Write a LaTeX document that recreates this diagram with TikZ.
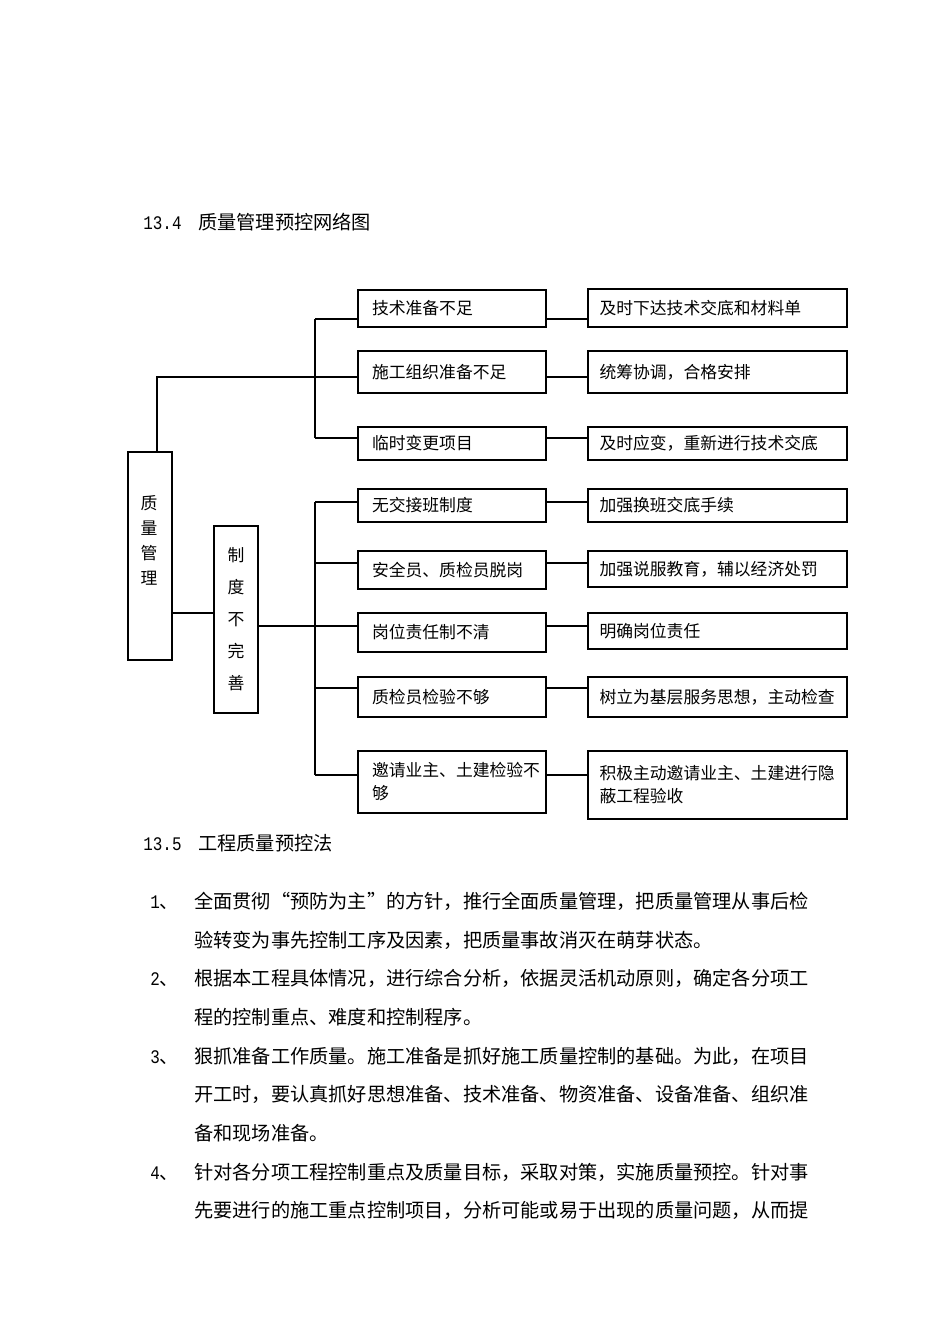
\documentclass[tikz,border=0pt]{standalone}
\usepackage{fontspec}
\setmainfont{Noto Sans CJK SC}
\newfontfamily\numfont[FakeStretch=0.83]{Liberation Mono}
\begin{document}
\begin{tikzpicture}[x=0.625pt,y=-0.625pt,
  bh/.style={minimum height=#1*0.625pt},
  boxline/.style={draw, line width=0.9pt},
  cbox/.style={boxline, inner xsep=8.75pt, inner ysep=0pt, text width=100pt, align=left,
    font=\fontsize{10.5pt}{14.4pt}\selectfont},
  rbox/.style={boxline, inner xsep=7.2pt, inner ysep=0pt, text width=147.5pt, align=left,
    font=\fontsize{10.5pt}{14.4pt}\selectfont},
  conn/.style={line width=0.8pt},
  bus/.style={line width=1.1pt},
  body/.style={anchor=west, inner sep=0pt, text height=10.56pt, text depth=1.44pt,
    font=\fontsize{12pt}{14pt}\selectfont}
]
\useasboundingbox (0,0) rectangle (950,1344);

% heading
\node[body] (h1) at (143,222) {{\numfont 13.4}\hspace{10.4pt}质量管理预控网络图};

% main boxes
\node[boxline, minimum width=27.5pt, minimum height=130pt, inner sep=0pt] (qm) at (150,556) {};
\node[inner sep=0pt, align=center, font=\fontsize{10.5pt}{15.6pt}\selectfont] (qmt) at (149,540) {质\\量\\管\\理};
\node[boxline, minimum width=27.5pt, minimum height=116.9pt, inner sep=0pt, align=center,
  font=\fontsize{10.5pt}{20pt}\selectfont] (zd) at (236,619.5) {制\\度\\不\\完\\善};

% cause boxes
\node[cbox, bh=37] (c1) at (452,308.5) {技术准备不足};
\node[cbox, bh=42] (c2) at (452,372) {施工组织准备不足};
\node[cbox, bh=33] (c3) at (452,443.5) {临时变更项目};
\node[cbox, bh=33] (c4) at (452,505.5) {无交接班制度};
\node[cbox, bh=38] (c5) at (452,570) {安全员、质检员脱岗};
\node[cbox, bh=39] (c6) at (452,632.5) {岗位责任制不清};
\node[cbox, bh=40] (c7) at (452,697) {质检员检验不够};
\node[cbox, bh=62] (c8) at (452,782) {邀请业主、土建检验不\\够};

% measure boxes
\node[rbox, bh=38] (r1) at (717.5,308) {及时下达技术交底和材料单};
\node[rbox, bh=42] (r2) at (717.5,372) {统筹协调，合格安排};
\node[rbox, bh=33] (r3) at (717.5,443.5) {及时应变，重新进行技术交底};
\node[rbox, bh=33] (r4) at (717.5,505.5) {加强换班交底手续};
\node[rbox, bh=36] (r5) at (717.5,569) {加强说服教育，辅以经济处罚};
\node[rbox, bh=36] (r6) at (717.5,631) {明确岗位责任};
\node[rbox, bh=40] (r7) at (717.5,697) {树立为基层服务思想，主动检查};
\node[rbox, bh=68] (r8) at (717.5,785) {积极主动邀请业主、土建进行隐\\蔽工程验收};

% helper coordinates
\coordinate (k0) at (157,377);
\coordinate (k2) at (190,613);
\coordinate (y1) at (315,319);
\coordinate (y2) at (315,377);
\coordinate (y3) at (315,438);
\coordinate (y4) at (315,502);
\coordinate (y5) at (315,563);
\coordinate (y6) at (315,626);
\coordinate (y7) at (315,688);
\coordinate (y8) at (315,775);

% upper tree
\draw[conn] (k0 |- qm.north) -- (k0) -- (c2.west |- k0);
\draw[bus] (y1) -- (y3);
\draw[conn] (y1) -- (c1.west |- y1);
\draw[conn] (y3) -- (c3.west |- y3);

% lower tree
\draw[conn] (qm.east |- k2) -- (zd.west |- k2);
\draw[conn] (zd.east |- y6) -- (c6.west |- y6);
\draw[bus] (y4) -- (y8);
\foreach \i in {4,5,7,8} { \draw[conn] (y\i) -- (c\i.west |- y\i); }

% cause -> measure
\foreach \i in {1,...,8} { \draw[conn] (c\i.east |- y\i) -- (r\i.west |- y\i); }

% section 13.5
\node[body] (h2) at (143,843) {{\numfont 13.5}\hspace{10.4pt}工程质量预控法};

\node[body] (n1) at (150,901) {{\numfont 1}、};
\node[body] (p1a) at (194,901) {全面贯彻“预防为主”的方针，推行全面质量管理，把质量管理从事后检};
\node[body] (p1b) at (194,940) {验转变为事先控制工序及因素，把质量事故消灭在萌芽状态。};
\node[body] (n2) at (150,978) {{\numfont 2}、};
\node[body] (p2a) at (194,978) {根据本工程具体情况，进行综合分析，依据灵活机动原则，确定各分项工};
\node[body] (p2b) at (194,1017) {程的控制重点、难度和控制程序。};
\node[body] (n3) at (150,1056) {{\numfont 3}、};
\node[body] (p3a) at (194,1056) {狠抓准备工作质量。施工准备是抓好施工质量控制的基础。为此，在项目};
\node[body] (p3b) at (194,1094) {开工时，要认真抓好思想准备、技术准备、物资准备、设备准备、组织准};
\node[body] (p3c) at (194,1133) {备和现场准备。};
\node[body] (n4) at (150,1172) {{\numfont 4}、};
\node[body] (p4a) at (194,1172) {针对各分项工程控制重点及质量目标，采取对策，实施质量预控。针对事};
\node[body] (p4b) at (194,1210) {先要进行的施工重点控制项目，分析可能或易于出现的质量问题，从而提};
\end{tikzpicture}
\end{document}
